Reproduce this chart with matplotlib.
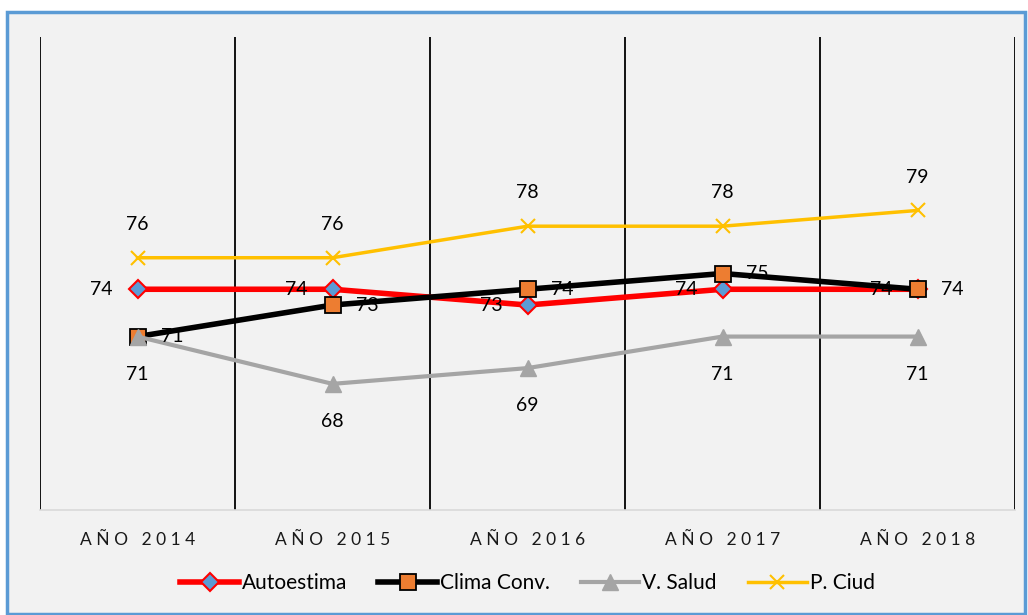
import matplotlib
matplotlib.use("Agg")
import matplotlib.pyplot as plt
from matplotlib.patches import Rectangle

plt.rcParams['font.family'] = ['Lato', 'DejaVu Sans']

years = ["AÑO 2014", "AÑO 2015", "AÑO 2016", "AÑO 2017", "AÑO 2018"]
autoestima = [74, 74, 73, 74, 74]
clima_conv = [71, 73, 74, 75, 74]
v_salud = [71, 68, 69, 71, 71]
p_ciud = [76, 76, 78, 78, 79]

fig = plt.figure(figsize=(10.28, 6.15), dpi=100, facecolor="white")
# marco azul del grafico
fig.patches.append(Rectangle((7 / 1028, 1 / 615), 1018 / 1028, 602 / 615,
                             transform=fig.transFigure, facecolor="#F2F2F2",
                             edgecolor="#5B9BD5", linewidth=2.5, zorder=-10))

ax = fig.add_axes([40 / 1028, 1 - 510 / 615, 975 / 1028, 473 / 615])
ax.set_facecolor("none")
ax.set_zorder(5)
x = list(range(len(years)))

series = [
    (autoestima, "Autoestima", dict(color="#FF0000", lw=4, marker="D", ms=9,
                                   mfc="#5B9BD5", mec="#FF0000", mew=1.5), (-26, 0)),
    (clima_conv, "Clima Conv.", dict(color="#000000", lw=4, marker="s", ms=12,
                                    mfc="#ED7D31", mec="#000000", mew=1.3), (25, 0)),
    (v_salud, "V. Salud", dict(color="#A5A5A5", lw=3, marker="^", ms=12,
                              mfc="#A5A5A5", mec="#A5A5A5"), (0, -27)),
    (p_ciud, "P. Ciud", dict(color="#FFC000", lw=2.5, marker="x", ms=10,
                            mew=1.5, mec="#FFC000"), (0, 24)),
]

for vals, name, style, off in series:
    ax.plot(x, vals, label=name, **style)
    for xi, v in zip(x, vals):
        ax.annotate(str(v), (xi, v), xytext=off, textcoords="offset points",
                    ha="center", va="center", fontsize=14, color="#000000")

ax.set_xlim(-0.5, len(years) - 0.5)
ax.set_ylim(60, 90)
for b in [i - 0.5 for i in range(len(years) + 1)]:
    ax.axvline(b, color="black", lw=1.3, zorder=0)

for s in ["top", "left", "right"]:
    ax.spines[s].set_visible(False)
ax.spines["bottom"].set_color("#D9D9D9")
ax.spines["bottom"].set_linewidth(1.2)
ax.set_yticks([])
ax.set_xticks(x)
ax.set_xticklabels([" ".join(y) for y in years], fontsize=12.5, color="#1a1a1a")
ax.tick_params(axis="x", length=0, pad=16)

ax.legend(loc="center", bbox_to_anchor=(0.5, -0.155), ncol=4, frameon=False,
          fontsize=15, handlelength=2.8, handletextpad=0.15, columnspacing=1.5)

fig.savefig("out.png", dpi=100, facecolor="white")
